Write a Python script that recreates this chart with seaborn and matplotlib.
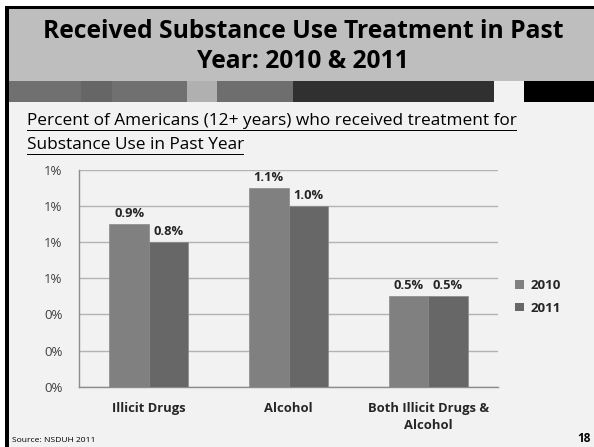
import numpy as np
import pandas as pd
import seaborn as sns
import matplotlib.pyplot as plt
from matplotlib.patches import Rectangle, Patch
from matplotlib.ticker import FuncFormatter, FixedLocator

# data
categorias = ['Illicit Drugs', 'Alcohol', 'Both Illicit Drugs &\nAlcohol']
anos = ['2010', '2011']
valores_2010 = [0.9, 1.1, 0.5]
valores_2011 = [0.8, 1.0, 0.5]
cores = ['#808080', '#676767']

df = pd.DataFrame({
    'categoria': categorias * 2,
    'ano': [anos[0]] * 3 + [anos[1]] * 3,
    'pct': valores_2010 + valores_2011,
})

sns.set_style('white')
plt.rcParams['font.family'] = ['Open Sans', 'DejaVu Sans']

W, H = 594, 447
fig = plt.figure(figsize=(W / 100, H / 100), dpi=100)
fig.patch.set_facecolor('#f2f2f2')


def caixa(x0, y0, x1, y1, cor):
    # retangulo em pixels (origem no canto superior esquerdo)
    fig.add_artist(Rectangle((x0 / W, 1 - y1 / H), (x1 - x0) / W, (y1 - y0) / H,
                             transform=fig.transFigure, facecolor=cor,
                             edgecolor='none', zorder=0))


# moldura e faixa do titulo
caixa(0, 0, W, 6, 'white')
caixa(0, 0, 5, H, 'white')
caixa(5, 6, W, 9, 'black')
caixa(5, 6, 9, H, 'black')
caixa(9, 9, W, 81, '#bebebe')
faixa = [(9, 81, '#707070'), (81, 112, '#666666'), (112, 187, '#707070'),
         (187, 217, '#b0b0b0'), (217, 293, '#6e6e6e'), (293, 494, '#303030'),
         (494, 524, '#f2f2f2'), (524, 594, 'black')]
for x0, x1, c in faixa:
    caixa(x0, 81, x1, 102, c)

fig.text(303 / W, 1 - 31 / H, 'Received Substance Use Treatment in Past',
         ha='center', va='center', fontsize=17.7, fontweight='bold', color='black')
fig.text(303 / W, 1 - 62 / H, 'Year: 2010 & 2011',
         ha='center', va='center', fontsize=17.7, fontweight='bold', color='black')

sub1 = fig.text(27 / W, 1 - 121 / H,
                'Percent of Americans (12+ years) who received treatment for',
                ha='left', va='center', fontsize=12.4, color='black')
sub2 = fig.text(27 / W, 1 - 145 / H, 'Substance Use in Past Year',
                ha='left', va='center', fontsize=12.4, color='black')

# sublinhado do subtitulo
rend = fig.canvas.get_renderer()
for t, y in [(sub1, 130), (sub2, 154)]:
    bb = t.get_window_extent(rend)
    caixa(27, y, 27 + bb.width * 100 / fig.dpi, y + 1, 'black')

fig.text(12 / W, 1 - 441 / H, 'Source: NSDUH 2011', ha='left', va='center',
         fontsize=6.1, color='black')
fig.text(591 / W, 1 - 439 / H, '18', ha='right', va='center',
         fontsize=8.5, fontweight='bold', color='black')

# grafico
ax = fig.add_axes([79 / W, 1 - 386.7 / H, 419 / W, 216.7 / H])
ax.set_facecolor('none')
sns.barplot(data=df, x='categoria', y='pct', hue='ano', palette=cores,
            width=0.566, saturation=1, ax=ax, legend=False, zorder=3,
            edgecolor='#8a8a8a', linewidth=0.5)

ax.set_ylim(0, 1.2)
ax.set_xlim(-0.5, 2.5)
ax.yaxis.set_major_locator(FixedLocator(np.arange(0, 1.21, 0.2)))
ax.yaxis.set_major_formatter(FuncFormatter(lambda v, p: f'{v:.0f}%'))
ax.grid(axis='y', color='#b3b3b3', linewidth=1, zorder=0)
ax.set_axisbelow(True)

for s in ['top', 'right']:
    ax.spines[s].set_visible(False)
for s in ['left', 'bottom']:
    ax.spines[s].set_color('#8c8c8c')
    ax.spines[s].set_linewidth(1)

ax.tick_params(axis='y', length=4, color='#8c8c8c', labelsize=9.5,
               labelcolor='#404040', pad=8)
ax.tick_params(axis='x', which='major', length=0, labelsize=9.4, pad=11)
ax.xaxis.set_minor_locator(FixedLocator([-0.5, 0.5, 1.5, 2.5]))
ax.tick_params(axis='x', which='minor', length=4, color='#8c8c8c')
for lbl in ax.get_xticklabels():
    lbl.set_fontweight('bold')
    lbl.set_linespacing(1.4)

for cont in ax.containers:
    ax.bar_label(cont, fmt='%.1f%%', padding=3, fontsize=9.3,
                 fontweight='bold', color='#262626')

ax.set_xlabel('')
ax.set_ylabel('')

alcas = [Patch(facecolor=c, edgecolor='none') for c in cores]
fig.legend(alcas, anos, loc='center left',
           bbox_to_anchor=(503 / W, 1 - 297 / H), frameon=False,
           prop={'weight': 'bold', 'size': 9.6}, handlelength=0.65,
           handleheight=0.65, handletextpad=0.5, labelspacing=0.7)

plt.savefig('out.png', dpi=100, facecolor=fig.get_facecolor())
